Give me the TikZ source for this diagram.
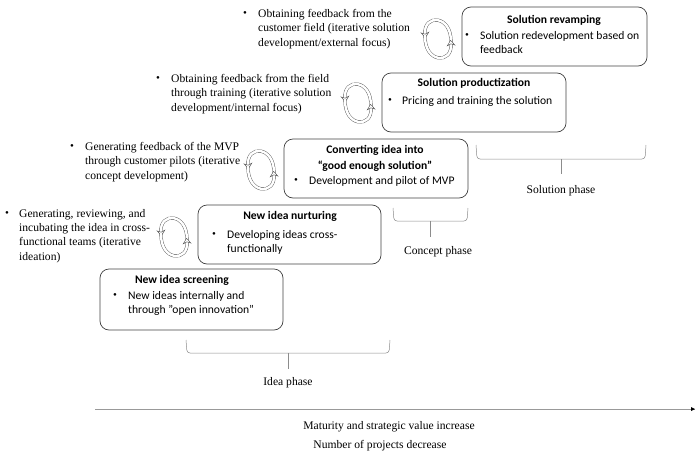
\documentclass[tikz,border=0pt]{standalone}
\usepackage{fontspec}
\setmainfont{Liberation Serif}
\newfontfamily\boxfont{Carlito}
\usetikzlibrary{arrows.meta}
\tikzset{
  stagebox/.style={draw=black!75, rounded corners=9pt, line width=0.7pt},
  boxtitle/.style={inner sep=0pt, font=\boxfont\bfseries\fontsize{11.6}{15.5}\selectfont, align=center},
  boxitem/.style={inner sep=0pt, anchor=west, font=\boxfont\fontsize{11.6}{14}\selectfont, align=left},
  boxdot/.style={inner sep=0pt, font=\fontsize{11}{11}\selectfont},
  sidetext/.style={inner sep=0pt, anchor=west, font=\fontsize{11.6}{14.2}\selectfont, align=left},
  phasetext/.style={inner sep=0pt, font=\fontsize{11.6}{13}\selectfont},
  brace/.style={draw=black!45, line width=0.5pt, rounded corners=3pt},
  cyclearrow/.style={draw=black!70, double=white, double distance=2.4pt, line width=0.4pt, -{Stealth[fill=white,length=6pt,width=9pt]}},
  pics/cycle/.style={code={
    \draw[cyclearrow] (13,4) .. controls (14,-25) and (-15,-25) .. (-12.5,-1);
    \draw[cyclearrow] (-13,-4) .. controls (-14,25) and (15,25) .. (12.5,1);
  }},
}
\begin{document}
\begin{tikzpicture}[x=1pt, y=-1pt]
\useasboundingbox (0,0) rectangle (700,463);
% stages
\draw[stagebox] (100,269) rectangle (283,330);
\draw[stagebox] (198,205) rectangle (381,264);
\draw[stagebox] (284,139) rectangle (468,198);
\draw[stagebox] (382,73) rectangle (566,132);
\draw[stagebox] (462,7) rectangle (647,66);
\node[boxtitle] (t1) at (182,280) {New idea screening};
\node[boxtitle] (t2) at (290,216) {New idea nurturing};
\node[boxtitle] (t3) at (375,158.5) {Converting idea into\\“good enough solution”};
\node[boxtitle] (t4) at (474,83) {Solution productization};
\node[boxtitle] (t5) at (554,20) {Solution revamping};
\node[boxdot] (b1) at (115,296) {\textbullet};
\node[boxdot] (b2) at (214,235) {\textbullet};
\node[boxdot] (b3) at (296,181) {\textbullet};
\node[boxdot] (b4) at (390,101) {\textbullet};
\node[boxdot] (b5) at (467,36) {\textbullet};
\node[boxitem] (i1) at (128,303) {New ideas internally and\\through ”open innovation”};
\node[boxitem] (i2) at (227,242) {Developing ideas cross-\\functionally};
\node[boxitem] (i3) at (309,181) {Development and pilot of MVP};
\node[boxitem] (i4) at (402,101) {Pricing and training the solution};
\node[boxitem] (i5) at (480,43) {Solution redevelopment based on\\feedback};
% feedback
\node[boxdot] (s1) at (245,14) {\textbullet};
\node[boxdot] (s2) at (158,79) {\textbullet};
\node[boxdot] (s3) at (72,147) {\textbullet};
\node[boxdot] (s4) at (7,214) {\textbullet};
\node[sidetext] (f1) at (258,29) {Obtaining feedback from the\\customer field (iterative solution\\development/external focus)};
\node[sidetext] (f2) at (171,94) {Obtaining feedback from the field\\through training (iterative solution\\development/internal focus)};
\node[sidetext] (f3) at (85,162) {Generating feedback of the MVP\\through customer pilots (iterative\\concept development)};
\node[sidetext] (f4) at (19,236) {Generating, reviewing, and\\incubating the idea in cross-\\functional teams (iterative\\ideation)};
% cycles
\pic (c1) at (438,39) {cycle};
\pic (c2) at (358,103) {cycle};
\pic (c3) at (261,170) {cycle};
\pic (c4) at (174,237) {cycle};
% phases
\draw[brace] (186,340) -- (187,353) -- (288,353) -- (389,353) -- (390,340);
\draw[brace] (288,353) -- (288,369);
\draw[brace] (393,208) -- (394,221) -- (430,221) -- (467,221) -- (468,208);
\draw[brace] (430,221) -- (430,237);
\draw[brace] (476,145) -- (477,159) -- (561,159) -- (645,159) -- (646,145);
\draw[brace] (561,159) -- (561,174);
\node[phasetext] (p1) at (288,383) {Idea phase};
\node[phasetext] (p2) at (438,252) {Concept phase};
\node[phasetext] (p3) at (561,191) {Solution phase};
% axis
\coordinate (a0) at (95,409);
\coordinate (a1) at (695,409);
\draw[draw=black!40, line width=0.7pt] (a0) -- (a1);
\fill[black] (691,407) -- (695,409) -- (691,411) -- cycle;
\node[phasetext] (m1) at (389,427) {Maturity and strategic value increase};
\node[phasetext] (m2) at (380,446) {Number of projects decrease};
\end{tikzpicture}
\end{document}
